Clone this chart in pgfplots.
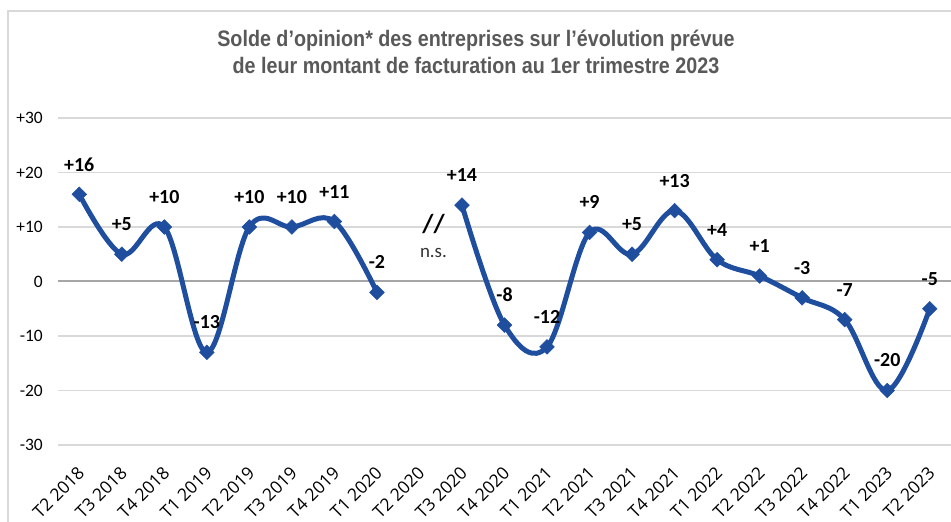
\documentclass[border=0pt]{standalone}
\usepackage{fontspec}
\setmainfont{Carlito}
\newfontfamily\titlefont[FakeStretch=0.88]{Liberation Sans}
\newfontfamily\xfont{Open Sans}
\usepackage{pgfplots}
\pgfplotsset{compat=1.18}
\definecolor{lineblue}{HTML}{1F4E9F}
\definecolor{titlegray}{HTML}{595959}
\definecolor{gridgray}{HTML}{D9D9D9}
\definecolor{zerogray}{HTML}{A6A6A6}
\definecolor{framegray}{HTML}{D9D9D9}

\pgfplotstableread{
x y lab
0 16 +16
1 5 +5
2 10 +10
3 -13 -13
4 10 +10
5 10 +10
6 11 +11
7 -2 -2
}\partA
\pgfplotstableread{
x y lab
9 14 +14
10 -8 -8
11 -12 -12
12 9 +9
13 5 +5
14 13 +13
15 4 +4
16 1 +1
17 -3 -3
18 -7 -7
19 -20 -20
20 -5 -5
}\partB

\begin{document}
\begin{tikzpicture}[x=1bp,y=1bp]
\useasboundingbox (0,0) rectangle (951,522);
\draw[framegray, line width=1.5bp] (8,0) -- (8,511) -- (951,511);
\node[titlegray, font=\titlefont\bfseries\fontsize{22.5}{27}\selectfont, align=center] at (476,470)
  {Solde d’opinion* des entreprises sur l’évolution prévue\\de leur montant de facturation au 1er trimestre 2023};
\begin{axis}[
  at={(58bp,77bp)}, anchor=south west, scale only axis,
  width=893bp, height=327bp,
  xmin=-0.5, xmax=20.5, ymin=-30, ymax=30,
  axis line style={draw=none},
  major tick length=0pt,
  ymajorgrids, grid style={gridgray, line width=1.3bp},
  ytick={-30,-20,-10,0,10,20,30},
  yticklabels={-30,-20,-10,0,+10,+20,+30},
  yticklabel style={font=\fontsize{17.5}{17.5}\selectfont, anchor=east, inner sep=0pt, xshift=-15bp},
  xtick={0,...,20},
  xticklabels={T2 2018,T3 2018,T4 2018,T1 2019,T2 2019,T3 2019,T4 2019,T1 2020,T2 2020,T3 2020,T4 2020,T1 2021,T2 2021,T3 2021,T4 2021,T1 2022,T2 2022,T3 2022,T4 2022,T1 2023,T2 2023},
  xticklabel style={font=\xfont\fontsize{17.5}{17.5}\selectfont, xshift=2bp, yshift=-25bp, rotate=45, anchor=east, inner sep=0pt},
  clip=false,
  nodes near coords,
  point meta=explicit symbolic,
  nodes near coords style={font=\bfseries\fontsize{20}{20}\selectfont, anchor=center, yshift=30bp, text=black},
]
\draw[zerogray, line width=2bp] (axis cs:-0.5,0) -- (axis cs:20.5,0);
\addplot[lineblue, line width=5bp, smooth, tension=0.6, mark=square*, mark size=5.2bp, mark options={fill=lineblue, line width=0.5bp, rotate=45}] table[x=x, y=y, meta=lab] {\partA};
\addplot[lineblue, line width=5bp, smooth, tension=0.6, mark=square*, mark size=5.2bp, mark options={fill=lineblue, line width=0.5bp, rotate=45}] table[x=x, y=y, meta=lab] {\partB};
\node[font=\bfseries\fontsize{26}{26}\selectfont, text=black] at (axis cs:8.33,10.5) {//};
\node[font=\fontsize{19}{19}\selectfont, text=black!80] at (axis cs:8.33,5.3) {n.s.};
\end{axis}
\end{tikzpicture}
\end{document}
